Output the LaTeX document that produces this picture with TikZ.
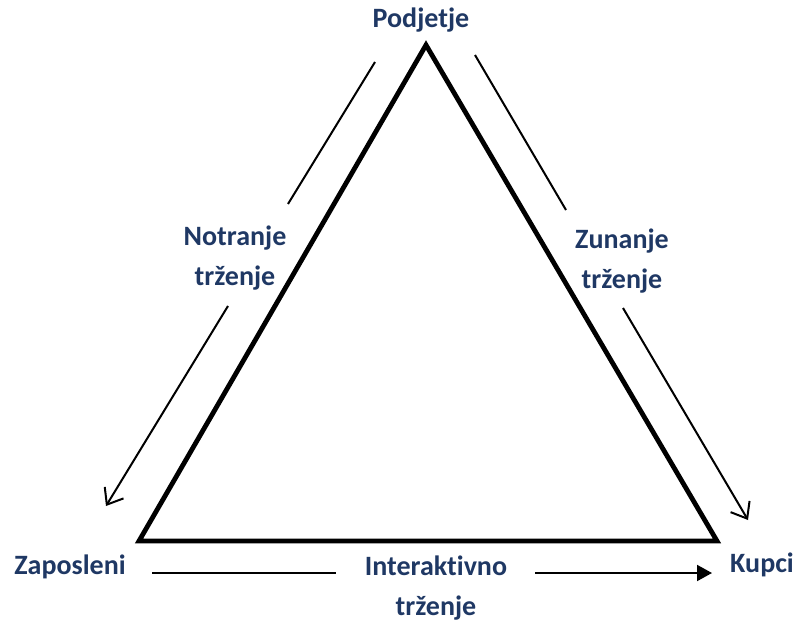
\documentclass[tikz,border=0pt]{standalone}
\usepackage{fontspec}
\setmainfont{Carlito}[Ligatures={NoCommon,TeX}]
\usetikzlibrary{arrows.meta}
\definecolor{lblue}{RGB}{31,56,100}
\begin{document}
\begin{tikzpicture}[x=1pt,y=-1pt,
  lbl/.style={text=lblue,font=\bfseries\fontsize{28}{40}\selectfont,align=center,inner sep=0pt},
  tri/.style={line width=4.8pt,line join=miter},
  flow/.style={line width=2pt},
  barb/.style={flow,-{Straight Barb[length=14pt,width=22pt,line width=2pt]}},
  fill tip/.style={flow,-{Triangle[length=15pt,width=16pt]}}]
\useasboundingbox (0,0) rectangle (798,623);
% triangle
\coordinate (T) at (426,45);
\coordinate (L) at (139,541);
\coordinate (R) at (717,541);
\draw[tri] (T) -- (L) -- (R) -- cycle;
% labels
\node[lbl] (pod) at (421,20) {Podjetje};
\node[lbl] (notr) at (235,258) {Notranje\\trženje};
\node[lbl] (zun) at (622,261) {Zunanje\\trženje};
\node[lbl] (zap) at (70,567) {Zaposleni};
\node[lbl] (kup) at (762,565) {Kupci};
\node[lbl] (int) at (436,588) {Interaktivno\\trženje};
% left arrow
\coordinate (la) at (375,62);
\coordinate (lb) at (288,204);
\coordinate (lc) at (228,306);
\coordinate (ld) at (106,506);
\draw[flow] (la) -- (lb);
\draw[barb] (lc) -- (ld);
% right arrow
\coordinate (ra) at (475,55);
\coordinate (rb) at (566,210);
\coordinate (rc) at (623,308);
\coordinate (rd) at (748,520);
\draw[flow] (ra) -- (rb);
\draw[barb] (rc) -- (rd);
% bottom arrow
\coordinate (ba) at (152,573);
\coordinate (bb) at (336,573);
\coordinate (bc) at (535,573);
\coordinate (bd) at (712,573);
\draw[flow] (ba) -- (bb);
\draw[fill tip] (bc) -- (bd);
\end{tikzpicture}
\end{document}
